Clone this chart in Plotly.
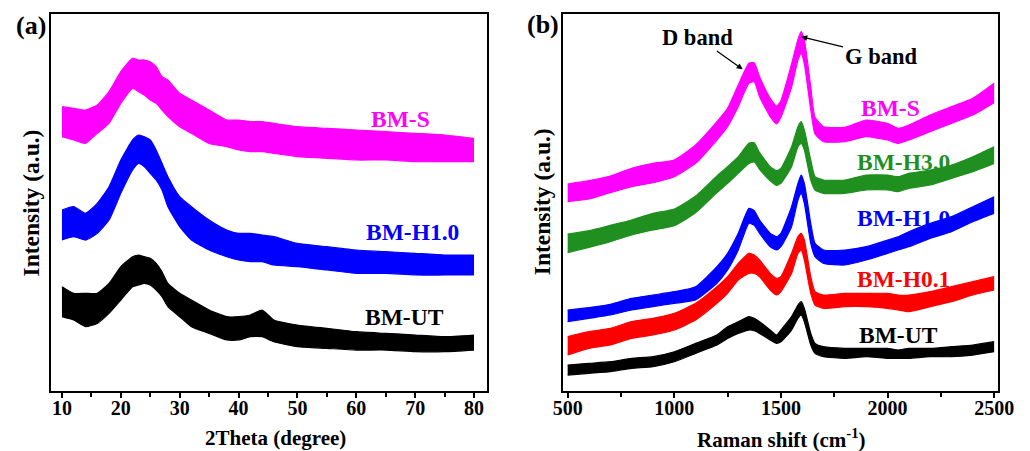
import plotly.graph_objects as go

# ---------------- Panel (a): XRD ----------------
xrd_theta = [10, 12, 14, 16, 18, 20, 22, 23, 24, 25, 26, 27, 28, 30, 32, 35, 38, 40, 42, 44, 46, 50, 55, 60, 65, 70, 75, 80]
xrd_s_upper = [852, 847, 842, 857, 897, 957, 997, 992, 992, 987, 972, 942, 932, 892, 872, 842, 812, 812, 807, 807, 802, 792, 787, 782, 777, 772, 767, 757]
xrd_s_lower = [762, 752, 742, 772, 802, 862, 907, 897, 887, 872, 862, 842, 822, 792, 772, 742, 732, 722, 717, 717, 712, 702, 697, 692, 692, 687, 687, 687]
xrd_h10_upper = [542, 552, 532, 562, 612, 692, 752, 767, 762, 752, 722, 682, 642, 582, 552, 512, 482, 472, 472, 467, 462, 442, 432, 422, 417, 412, 407, 407]
xrd_h10_lower = [452, 462, 452, 472, 512, 592, 662, 682, 672, 652, 632, 602, 552, 492, 452, 422, 402, 392, 387, 387, 377, 372, 362, 352, 352, 347, 347, 347]
xrd_ut_upper = [312, 292, 292, 292, 322, 372, 402, 407, 402, 397, 382, 357, 322, 292, 272, 242, 222, 222, 227, 242, 212, 197, 187, 177, 172, 167, 162, 167]
xrd_ut_lower = [222, 212, 192, 202, 232, 272, 312, 317, 322, 317, 302, 282, 252, 222, 192, 172, 152, 152, 162, 162, 147, 132, 127, 122, 122, 117, 117, 122]
xrd_ticks = [10, 20, 30, 40, 50, 60, 70, 80]

# ---------------- Panel (b): Raman ----------------
raman_shift = [500, 600, 700, 800, 900, 1000, 1100, 1200, 1250, 1300, 1350, 1375, 1400, 1450, 1480, 1500,
               1550, 1580, 1595, 1610, 1640, 1660, 1700, 1800, 1900, 2000, 2050, 2100, 2200, 2300, 2400, 2500]
ram_s_upper = [620, 630, 644, 667, 682, 692, 737, 807, 847, 917, 982, 984, 942, 877, 854, 870,
               980, 1054, 1077, 1052, 912, 820, 792, 790, 812, 802, 787, 797, 827, 852, 877, 922]
ram_s_lower = [567, 575, 594, 612, 624, 642, 682, 752, 792, 852, 922, 927, 882, 822, 800, 820,
               910, 992, 1012, 980, 842, 770, 747, 747, 762, 752, 742, 752, 777, 802, 827, 864]
ram_h30_upper = [470, 480, 496, 512, 532, 545, 584, 644, 672, 702, 742, 744, 714, 672, 660, 667,
                 732, 792, 807, 782, 692, 642, 632, 632, 647, 647, 642, 652, 662, 677, 702, 732]
ram_h30_lower = [414, 430, 447, 467, 482, 495, 534, 594, 622, 652, 682, 686, 664, 630, 616, 622,
                 672, 732, 742, 722, 632, 602, 592, 592, 602, 602, 597, 607, 617, 637, 657, 682]
ram_h10_upper = [242, 249, 259, 277, 287, 297, 312, 372, 412, 472, 547, 540, 512, 472, 462, 472,
                 552, 622, 647, 622, 502, 442, 422, 422, 432, 452, 462, 477, 502, 522, 552, 582]
ram_h10_lower = [207, 217, 227, 242, 252, 262, 272, 322, 362, 422, 502, 496, 472, 432, 422, 432,
                 492, 572, 592, 562, 442, 402, 382, 377, 392, 412, 422, 432, 457, 477, 507, 532]
ram_h01_upper = [162, 177, 187, 207, 217, 232, 262, 312, 342, 382, 412, 407, 392, 352, 337, 342,
                 412, 462, 472, 452, 342, 297, 287, 292, 292, 292, 287, 287, 297, 312, 327, 342]
ram_h01_lower = [107, 127, 137, 157, 167, 182, 212, 262, 292, 332, 352, 352, 342, 302, 287, 297,
                 352, 412, 422, 392, 292, 257, 247, 252, 252, 247, 242, 237, 252, 267, 287, 302]
ram_ut_upper = [77, 82, 87, 97, 102, 117, 142, 167, 192, 207, 222, 217, 207, 182, 167, 182,
                222, 257, 267, 247, 172, 142, 132, 127, 127, 127, 122, 127, 127, 132, 137, 147]
ram_ut_lower = [47, 52, 57, 67, 72, 87, 112, 137, 157, 172, 182, 180, 172, 152, 142, 147,
                182, 217, 227, 207, 137, 112, 102, 97, 102, 97, 97, 97, 102, 102, 107, 117]
raman_ticks = [500, 1000, 1500, 2000, 2500]

MAGENTA = "#FF00FF"
BLUE = "#0000FF"
GREEN = "#1F8F1F"
RED = "#FF0000"
BLACK = "#000000"
FONT = "Liberation Serif, Times New Roman, serif"

fig = go.Figure()


def add_band(x, lower, upper, color, xa, ya):
    fig.add_trace(go.Scatter(x=x, y=lower, mode="lines", xaxis=xa, yaxis=ya,
                             line=dict(color=color, width=1.2, shape="spline", smoothing=0.5),
                             showlegend=False, hoverinfo="skip"))
    fig.add_trace(go.Scatter(x=x, y=upper, mode="lines", xaxis=xa, yaxis=ya, fill="tonexty",
                             fillcolor=color,
                             line=dict(color=color, width=1.2, shape="spline", smoothing=0.5),
                             showlegend=False, hoverinfo="skip"))


add_band(xrd_theta, xrd_s_lower, xrd_s_upper, MAGENTA, "x", "y")
add_band(xrd_theta, xrd_h10_lower, xrd_h10_upper, BLUE, "x", "y")
add_band(xrd_theta, xrd_ut_lower, xrd_ut_upper, BLACK, "x", "y")

add_band(raman_shift, ram_s_lower, ram_s_upper, MAGENTA, "x2", "y2")
add_band(raman_shift, ram_h30_lower, ram_h30_upper, GREEN, "x2", "y2")
add_band(raman_shift, ram_h10_lower, ram_h10_upper, BLUE, "x2", "y2")
add_band(raman_shift, ram_h01_lower, ram_h01_upper, RED, "x2", "y2")
add_band(raman_shift, ram_ut_lower, ram_ut_upper, BLACK, "x2", "y2")

W, H = 1030, 451
ydom = [1 - 390.7 / H, 1 - 14 / H]

tickfont = dict(family=FONT, size=20, color="black", weight="bold")
common_x = dict(ticks="outside", ticklen=5, tickwidth=1.5, tickcolor="black",
                showline=True, linewidth=2, linecolor="black", mirror=True,
                showgrid=False, zeroline=False, tickfont=tickfont, ticklabelstandoff=-7)
common_y = dict(domain=ydom, range=[0, 1130], showticklabels=False, ticks="",
                showline=True, linewidth=2, linecolor="black", mirror=True,
                showgrid=False, zeroline=False)

fig.update_layout(
    width=W, height=H,
    margin=dict(l=0, r=0, t=0, b=0),
    paper_bgcolor="white", plot_bgcolor="white",
    xaxis=dict(domain=[41.7 / W, 489 / W], range=[8.08, 82.15], tickvals=xrd_ticks,
               minor=dict(dtick=5, tick0=5, ticks="outside", ticklen=4, tickwidth=1.5, tickcolor="black"),
               anchor="y", **common_x),
    yaxis=dict(anchor="x", **common_y),
    xaxis2=dict(domain=[567.5 / W, 1014 / W], range=[479, 2520], tickvals=raman_ticks,
                minor=dict(dtick=250, tick0=0, ticks="outside", ticklen=4, tickwidth=1.5, tickcolor="black"),
                anchor="y2", **common_x),
    yaxis2=dict(anchor="x2", **common_y),
)


def txt(px, py, text, size, color="black", angle=0):
    fig.add_annotation(x=px / W, y=1 - py / H, xref="paper", yref="paper", text=text,
                       showarrow=False, textangle=angle, xanchor="center", yanchor="middle",
                       font=dict(family=FONT, size=size, color=color, weight="bold"))


# panel labels
txt(22, 26, "(a)", 26)
txt(547, 25, "(b)", 26)
# axis titles
txt(22, 203, "Intensity (a.u.)", 23.5, angle=-90)
txt(546, 202, "Intensity (a.u.)", 23.5, angle=-90)
txt(272, 438, "2Theta (degree)", 21)
txt(791, 438, "Raman shift (cm<sup>-1</sup>)", 21)
# series labels (a)
txt(401, 119, "BM-S", 23.5, MAGENTA)
txt(413, 232, "BM-H1.0", 23.5, BLUE)
txt(405, 317, "BM-UT", 23.5, BLACK)
# series labels (b)
txt(903, 108, "BM-S", 23.5, MAGENTA)
txt(917, 162, "BM-H3.0", 23.5, GREEN)
txt(917, 218, "BM-H1.0", 23.5, BLUE)
txt(917, 279, "BM-H0.1", 23.5, RED)
txt(912, 335, "BM-UT", 23.5, BLACK)

# band annotations with arrows (text placed by pixel offset from arrow head)
band_font = dict(family=FONT, size=22.5, color="black", weight="bold")
fig.add_annotation(x=751.7 / W, y=1 - 69.3 / H, xref="paper", yref="paper", text="D band",
                   showarrow=True, axref="pixel", ayref="pixel", ax=-45.7, ay=-32.3,
                   arrowhead=2, arrowsize=1, arrowwidth=1.2, arrowcolor="black", font=band_font)
fig.add_annotation(x=811.7 / W, y=1 - 36.7 / H, xref="paper", yref="paper", text="G band",
                   showarrow=True, axref="pixel", ayref="pixel", ax=79.3, ay=19.3,
                   arrowhead=2, arrowsize=1, arrowwidth=1.2, arrowcolor="black", font=band_font)

fig.write_html("out.html", config={"displayModeBar": False},
               post_script="document.body.style.margin='0';document.body.style.overflow='hidden';")
